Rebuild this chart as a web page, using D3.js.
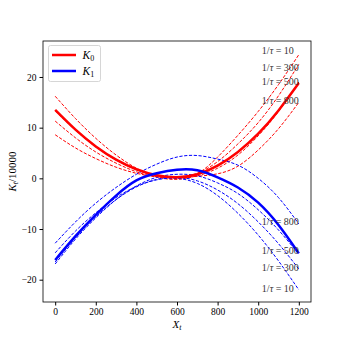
<!DOCTYPE html>
<html>
<head>
<meta charset="utf-8">
<script src="https://cdn.jsdelivr.net/npm/d3@7"></script>
<style>
  body { margin: 0; background: #fff; }
  text { font-family: "Liberation Serif", "DejaVu Serif", serif; }
</style>
</head>
<body>
<div id="chart"></div>
<script>
// X grid the curves were read at
const xs = [0, 100, 200, 300, 400, 500, 600, 700, 800, 900, 1000, 1100, 1200];

// K0 (red)
const k0 = [13.5, 9.6, 6.3, 3.7, 1.8, 0.6, 0.2, 0.8, 2.5, 5.2, 8.8, 13.4, 18.8];
const k0Tau10 = [16.2, 11.8, 7.9, 4.6, 2.0, 0.3, -0.2, 0.9, 4.2, 8.5, 13.2, 18.5, 24.4];
const k0Tau300 = [11.3, 8.0, 5.2, 3.0, 1.3, 0.3, 0.2, 1.0, 3.3, 6.8, 11.0, 16.3, 22.5];
const k0Tau500 = [13.3, 9.5, 6.2, 3.6, 1.7, 0.5, 0.0, 0.5, 2.0, 4.6, 8.4, 13.2, 19.0];
const k0Tau800 = [8.6, 6.0, 3.9, 2.2, 1.0, 0.3, 0.1, 0.4, 0.9, 2.4, 5.6, 9.8, 15.0];

// K1 (blue)
const k1 = [-16.1, -11.4, -7.2, -3.4, -0.4, 1.0, 1.7, 1.6, 0.2, -1.8, -4.8, -9.2, -14.8];
const k1Tau10 = [-14.7, -10.4, -6.8, -3.8, -1.6, -0.3, 0.0, -1.0, -3.4, -6.9, -11.2, -16.3, -22.0];
const k1Tau300 = [-16.5, -11.7, -7.6, -4.2, -1.7, -0.2, 0.2, -0.5, -2.3, -5.0, -8.6, -12.9, -17.9];
const k1Tau500 = [-16.9, -12.0, -7.8, -4.2, -1.5, 0.2, 0.8, 0.5, -0.9, -3.0, -6.2, -10.2, -15.0];
const k1Tau800 = [-12.8, -8.6, -4.9, -1.8, 0.8, 2.8, 4.2, 4.5, 3.8, 2.6, 0.0, -3.8, -9.0];

// annotation labels: [text value, y position]
const redLabels = [["10", 25.3], ["300", 21.8], ["500", 19.2], ["800", 15.4]];
const blueLabels = [["800", -8.6], ["500", -14.3], ["300", -17.6], ["10", -21.7]];
const labelX = 1018;

const xTicks = [0, 200, 400, 600, 800, 1000, 1200];
const yTicks = [-20, -10, 0, 10, 20];

const width = 346, height = 346;
const margin = { left: 43, right: 35, top: 41, bottom: 44 };

const svg = d3.select("#chart").append("svg")
  .attr("width", width).attr("height", height);

const x = d3.scaleLinear().domain([-60, 1260])
  .range([margin.left, width - margin.right]);
const y = d3.scaleLinear().domain([-24.4, 27.1])
  .range([height - margin.bottom, margin.top]);

const line = d3.line()
  .x((d, i) => x(xs[i]))
  .y(d => y(d))
  .curve(d3.curveNatural);

const series = [
  { v: k0Tau10, c: "#ff0000", dash: true },
  { v: k0Tau300, c: "#ff0000", dash: true },
  { v: k0Tau500, c: "#ff0000", dash: true },
  { v: k0Tau800, c: "#ff0000", dash: true },
  { v: k1Tau10, c: "#0000ff", dash: true },
  { v: k1Tau300, c: "#0000ff", dash: true },
  { v: k1Tau500, c: "#0000ff", dash: true },
  { v: k1Tau800, c: "#0000ff", dash: true },
  { v: k0, c: "#ff0000", dash: false },
  { v: k1, c: "#0000ff", dash: false },
];

svg.append("g")
  .selectAll("path")
  .data(series)
  .join("path")
  .attr("d", d => line(d.v))
  .attr("fill", "none")
  .attr("stroke", d => d.c)
  .attr("stroke-width", d => d.dash ? 1 : 2.5)
  .attr("stroke-dasharray", d => d.dash ? "3.2,1.6" : null);

// tau labels
[...redLabels, ...blueLabels].forEach(([t, v]) => {
  const txt = svg.append("text")
    .attr("x", x(labelX)).attr("y", y(v))
    .attr("dy", "0.35em")
    .attr("font-size", 10)
    .attr("fill", "#333");
  txt.append("tspan").text("1/");
  txt.append("tspan").attr("font-style", "italic").text("τ");
  txt.append("tspan").text(" = " + t);
});

// axes
const fmt = d => d3.format("")(d).replace("-", "−");
svg.append("g")
  .attr("transform", `translate(0,${height - margin.bottom})`)
  .call(d3.axisBottom(x).tickValues(xTicks).tickSize(3.5).tickPadding(3).tickFormat(fmt))
  .call(g => g.select(".domain").remove())
  .selectAll("text").attr("font-size", 9.5).attr("font-family", "Liberation Serif, serif");

svg.append("g")
  .attr("transform", `translate(${margin.left},0)`)
  .call(d3.axisLeft(y).tickValues(yTicks).tickSize(3.5).tickPadding(3).tickFormat(fmt))
  .call(g => g.select(".domain").remove())
  .selectAll("text").attr("font-size", 9.5).attr("font-family", "Liberation Serif, serif");

svg.append("rect")
  .attr("x", margin.left).attr("y", margin.top)
  .attr("width", width - margin.left - margin.right)
  .attr("height", height - margin.top - margin.bottom)
  .attr("fill", "none").attr("stroke", "#000").attr("stroke-width", 0.8);

// axis labels
const xl = svg.append("text")
  .attr("x", x(600)).attr("y", 328)
  .attr("text-anchor", "middle").attr("font-size", 11);
xl.append("tspan").attr("font-style", "italic").text("X");
xl.append("tspan").attr("font-style", "italic").attr("font-size", 8).attr("dy", 2).text("t");

const yl = svg.append("text")
  .attr("transform", `translate(16,${(margin.top + height - margin.bottom) / 2}) rotate(-90)`)
  .attr("text-anchor", "middle").attr("font-size", 11);
yl.append("tspan").attr("font-style", "italic").text("K");
yl.append("tspan").attr("font-style", "italic").attr("font-size", 8).attr("dy", 2).text("t");
yl.append("tspan").attr("dy", -2).text("/10000");

// legend
const legend = svg.append("g").attr("transform", "translate(48.5,45.5)");
legend.append("rect")
  .attr("width", 52).attr("height", 36).attr("rx", 2)
  .attr("fill", "#fff").attr("fill-opacity", 0.8)
  .attr("stroke", "#ccc").attr("stroke-width", 0.8);
[["#ff0000", "0"], ["#0000ff", "1"]].forEach(([c, s], i) => {
  const ly = 9.5 + i * 16;
  legend.append("line")
    .attr("x1", 3.5).attr("x2", 27.5).attr("y1", ly).attr("y2", ly)
    .attr("stroke", c).attr("stroke-width", 2.5);
  const t = legend.append("text").attr("x", 34).attr("y", ly).attr("dy", "0.35em")
    .attr("font-size", 11.5);
  t.append("tspan").attr("font-style", "italic").text("K");
  t.append("tspan").attr("font-size", 8).attr("dy", 2).text(s);
});
</script>
</body>
</html>
